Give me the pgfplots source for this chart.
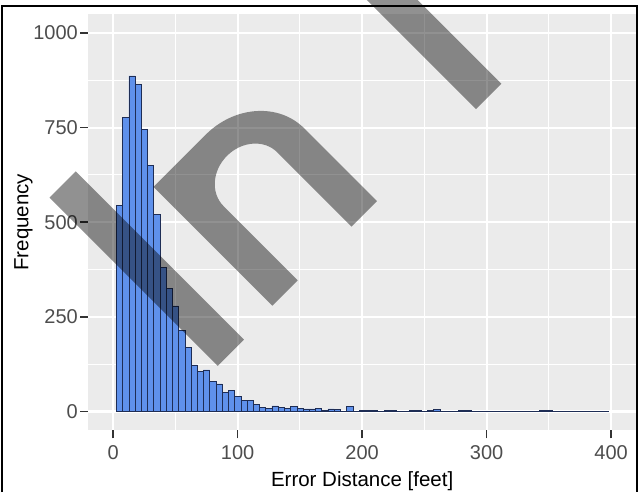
\documentclass[border=0pt]{standalone}
\usepackage{fontspec}
\setmainfont{Liberation Sans}
\usepackage{pgfplots}
\pgfplotsset{compat=1.18}
\definecolor{panel}{HTML}{EBEBEB}
\definecolor{barfill}{RGB}{95,145,235}
\definecolor{baredge}{RGB}{30,45,85}
\definecolor{ticktext}{HTML}{4D4D4D}
\definecolor{tickmark}{HTML}{333333}
\begin{document}
\begin{tikzpicture}
\useasboundingbox (0,0) rectangle (639pt,492pt);
\begin{axis}[
  at={(88.3pt,61.6pt)}, anchor=south west,
  scale only axis, width=547.7pt, height=416.3pt,
  xmin=-20, xmax=420, ymin=-50, ymax=1050,
  axis background/.style={fill=panel},
  axis line style={draw=none},
  tick pos=left, tick align=outside,
  major tick length=8pt, minor tick length=0pt,
  tick style={tickmark, line width=1.5pt},
  xtick={0,100,200,300,400}, ytick={0,250,500,750,1000},
  minor xtick={50,150,250,350}, minor ytick={125,375,625,875},
  grid=both,
  major grid style={white, line width=2.2pt},
  minor grid style={white, line width=1.1pt},
  scaled ticks=false,
  /pgf/number format/assume math mode=true,
  /pgf/number format/1000 sep={},
  ticklabel style={font=\fontsize{20}{20}\selectfont, text=ticktext},
  xticklabel style={yshift=-4pt},
  yticklabel style={xshift=1pt},
  xlabel={Error Distance [feet]}, ylabel={Frequency},
  every axis x label/.style={at={(axis description cs:0.5,-0.1336)}, anchor=base,
     font=\fontsize{20.5}{20.5}\selectfont},
  every axis y label/.style={at={(axis description cs:-0.1095,0.5)}, rotate=90, anchor=base,
     font=\fontsize{20.5}{20.5}\selectfont},
]
% histogram, 5 ft bins centred on 5, 10, ..., 395
\addplot[ybar, bar width=5, fill=barfill, draw=baredge, line width=0.5pt] coordinates {
(5,544)(10,777)(15,887)(20,865)(25,746)(30,651)(35,520)(40,380)(45,325)(50,279)
(55,215)(60,170)(65,123)(70,105)(75,110)(80,80)(85,73)(90,51)(95,55)(100,39)
(105,30)(110,29)(115,18)(120,10)(125,9)(130,15)(135,11)(140,8)(145,14)(150,8)
(155,7)(160,7)(165,9)(170,3)(175,7)(180,5)(185,1)(190,13)(195,1)(200,2)
(205,3)(210,3)(215,1)(220,2)(225,2)(230,1)(235,1)(240,2)(245,2)(250,1)
(255,2)(260,5)(265,1)(270,1)(275,0)(280,2)(285,2)(290,0)(295,0)(300,1)
(305,0)(310,0)(315,0)(320,0)(325,0)(330,1)(335,0)(340,0)(345,3)(350,3)
(355,0)(360,0)(365,0)(370,0)(375,0)(380,0)(385,0)(390,0)(395,1)
};
\end{axis}
% watermark
\begin{scope}
 \clip (0,0) rectangle (639pt,492pt);
 \begin{scope}[x=1pt,y=1pt,shift={(285pt,199pt)},rotate=45]
  \fill[black,opacity=0.43] (-99,-4) rectangle (-62,234);
  \fill[black,opacity=0.43] (-18,0) -- (18,0) -- (18,105)
     arc[start angle=180,end angle=0,x radius=38,y radius=33] -- (94,0) -- (130,0) -- (130,103)
     arc[start angle=0,end angle=90,x radius=74,y radius=65] -- (-18,168) -- cycle;
  \fill[black,opacity=0.43] (265,-5) rectangle (301,320);
 \end{scope}
\end{scope}
% frame
\draw[black, line width=2pt] (2pt,0) -- (2pt,486pt) -- (637pt,486pt) -- (637pt,0);
\end{tikzpicture}
\end{document}
